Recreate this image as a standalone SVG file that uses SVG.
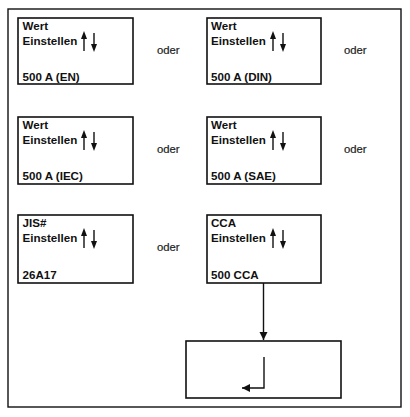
<svg xmlns="http://www.w3.org/2000/svg" width="410" height="417" viewBox="0 0 410 417">
<defs>
<style>
.box{fill:#fff;stroke:#111;stroke-width:1.6}
.frame{fill:#fff;stroke:#111;stroke-width:1.4}
.t{font-family:"Liberation Sans",Arial,sans-serif;font-size:11.6px;font-weight:bold;fill:#111}
.o{font-family:"Liberation Sans",Arial,sans-serif;font-size:11.3px;fill:#222;stroke:#222;stroke-width:0.2}
.ln{stroke:#111;stroke-width:1.4;fill:none}
.ah{fill:#111}
</style>
<g id="updown">
<line x1="0" y1="19" x2="0" y2="5" class="ln"/>
<path d="M-3,7 L0,-1 L3,7 Z" class="ah"/>
<line x1="10" y1="1" x2="10" y2="14" class="ln"/>
<path d="M7,12 L10,20 L13,12 Z" class="ah"/>
</g>
<marker id="arr" markerWidth="10" markerHeight="10" refX="8" refY="4" orient="auto" markerUnits="userSpaceOnUse">
<path d="M0,0 L8,4 L0,8 Z" fill="#111"/>
</marker>
</defs>
<rect class="frame" x="8" y="9" width="393" height="398"/>

<g id="node-en">
<rect class="box" x="18" y="18" width="115" height="66"/>
<text class="t" x="22.5" y="29.5">Wert</text>
<text class="t" x="22.5" y="45">Einstellen</text>
<use href="#updown" x="84" y="32"/>
<text class="t" x="22.5" y="80.5">500 A (EN)</text>
</g>
<g id="node-din">
<rect class="box" x="207" y="18" width="114" height="66"/>
<text class="t" x="211" y="29.5">Wert</text>
<text class="t" x="211" y="45">Einstellen</text>
<use href="#updown" x="273" y="32"/>
<text class="t" x="211" y="80.5">500 A (DIN)</text>
</g>
<g id="node-iec">
<rect class="box" x="18" y="117" width="115" height="67"/>
<text class="t" x="22.5" y="128.5">Wert</text>
<text class="t" x="22.5" y="144">Einstellen</text>
<use href="#updown" x="84" y="131"/>
<text class="t" x="22.5" y="180">500 A (IEC)</text>
</g>
<g id="node-sae">
<rect class="box" x="207" y="117" width="114" height="67"/>
<text class="t" x="211" y="128.5">Wert</text>
<text class="t" x="211" y="144">Einstellen</text>
<use href="#updown" x="273" y="131"/>
<text class="t" x="211" y="180">500 A (SAE)</text>
</g>
<g id="node-jis">
<rect class="box" x="18" y="215" width="115" height="68"/>
<text class="t" x="22.5" y="226.5">JIS#</text>
<text class="t" x="22.5" y="242">Einstellen</text>
<use href="#updown" x="84" y="229"/>
<text class="t" x="22.5" y="279">26A17</text>
</g>
<g id="node-cca">
<rect class="box" x="207" y="215" width="114" height="68"/>
<text class="t" x="211" y="226.5">CCA</text>
<text class="t" x="211" y="242">Einstellen</text>
<use href="#updown" x="273" y="229"/>
<text class="t" x="211" y="279">500 CCA</text>
</g>
<g id="node-enter">
<rect class="box" x="186" y="341" width="155" height="57"/>
<path class="ln" d="M264,357 L264,388 L242,388" marker-end="url(#arr)"/>
</g>
<g id="labels">
<text class="o" x="157" y="54">oder</text>
<text class="o" x="344" y="54">oder</text>
<text class="o" x="157" y="153">oder</text>
<text class="o" x="344" y="153">oder</text>
<text class="o" x="157" y="251">oder</text>
</g>
<g id="connectors">
<line class="ln" x1="263.5" y1="283" x2="263.5" y2="340" marker-end="url(#arr)"/>
</g>
</svg>
